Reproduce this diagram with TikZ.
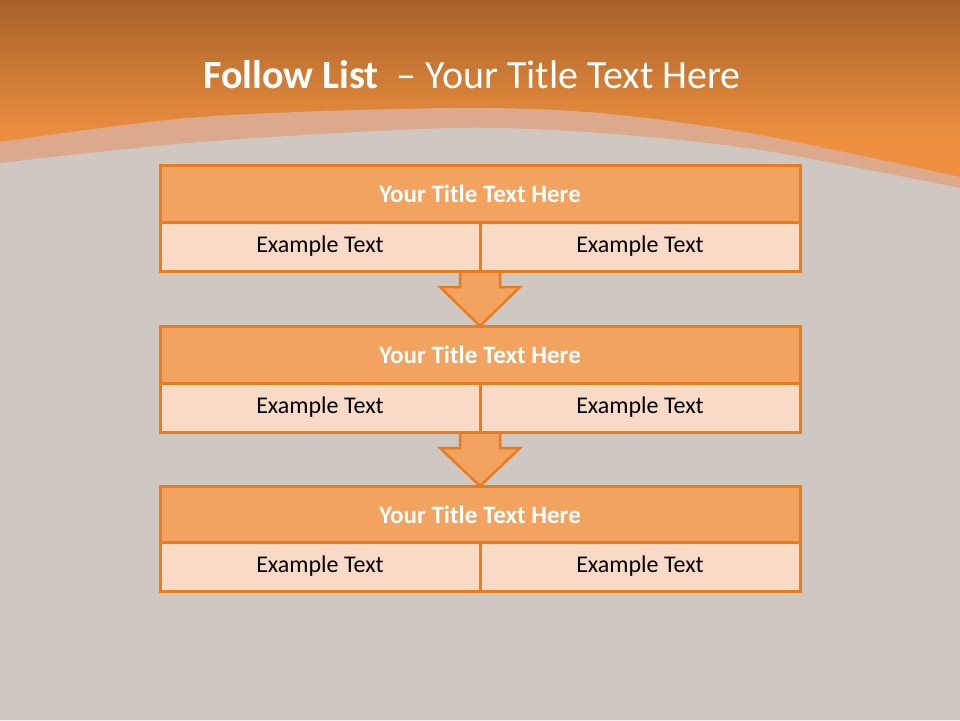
\documentclass[tikz,border=0pt]{standalone}
\usepackage{fontspec}
\setmainfont{Carlito}
\usetikzlibrary{calc}
\definecolor{topdark}{HTML}{A8622A}
\definecolor{topor}{HTML}{EE9040}
\definecolor{bandc}{HTML}{DDA98C}
\definecolor{greyc}{HTML}{CEC7C2}
\definecolor{titlefill}{HTML}{F2A360}
\definecolor{cellfill}{HTML}{F9DAC7}
\definecolor{edgec}{HTML}{E87D20}
\tikzset{
  rowtitle/.style={draw=edgec, fill=titlefill, line width=3pt, inner sep=0pt, outer sep=0pt,
    minimum width=640pt, minimum height=57pt, text=white, font=\fontsize{25}{30}\selectfont\bfseries},
  cellbox/.style={draw=edgec, fill=cellfill, line width=3pt, inner sep=0pt, outer sep=0pt,
    minimum width=320pt, minimum height=49pt, text=black, font=\fontsize{24}{29}\selectfont},
  flowarrow/.style={draw=edgec, fill=titlefill, line width=2.5pt, line join=miter}
}
\begin{document}
\begin{tikzpicture}[x=1pt,y=-1pt]
\useasboundingbox (0,0) rectangle (960,720);
% background
\shade[top color=topdark, bottom color=topor] (0,0) rectangle (960,140);
\fill[topor] (0,139) rectangle (960,200);
\fill[bandc] (0,142) plot[smooth] coordinates {(0,142) (200,117) (450,108) (600,113) (760,135) (960,177)} -- (960,720) -- (0,720) -- cycle;
\fill[greyc] (0,163) plot[smooth] coordinates {(0,163) (200,142) (450,128) (600,133) (760,150) (960,188)} -- (960,720) -- (0,720) -- cycle;
% title
\node[text=white, font=\fontsize{40}{48}\selectfont, anchor=base] (title) at (472,88) {\textbf{Follow List} \ – Your Title Text Here};
% rows
\node[rowtitle] (t1) at (480,193.5) {Your Title Text Here};
\node[cellbox] (a1) at (320,246.5) {Example Text};
\node[cellbox] (b1) at (640,246.5) {Example Text};
\node[rowtitle] (t2) at (480,354.5) {Your Title Text Here};
\node[cellbox] (a2) at (320,407.5) {Example Text};
\node[cellbox] (b2) at (640,407.5) {Example Text};
\node[rowtitle] (t3) at (480,514.5) {Your Title Text Here};
\node[cellbox] (a3) at (320,566.5) {Example Text};
\node[cellbox] (b3) at (640,566.5) {Example Text};
% arrows
\foreach \u/\v in {a1/t2, a2/t3}{
  \coordinate (s) at (\u.south east);
  \coordinate (e) at (\v.north);
  \draw[flowarrow] ($(s)+(-20,0)$) -- ($(s)+(-20,16)$) -- ($(s)+(-40,16)$) -- (e) -- ($(s)+(40,16)$) -- ($(s)+(20,16)$) -- ($(s)+(20,0)$);
}
% redraw box edges over arrow ends
\foreach \n in {a1,b1,a2,b2}{
  \draw[edgec, line width=3pt] (\n.south west) -- (\n.south east);
}
\foreach \n in {t2,t3}{
  \draw[edgec, line width=3pt] (\n.north west) -- (\n.north east);
}
\end{tikzpicture}
\end{document}
